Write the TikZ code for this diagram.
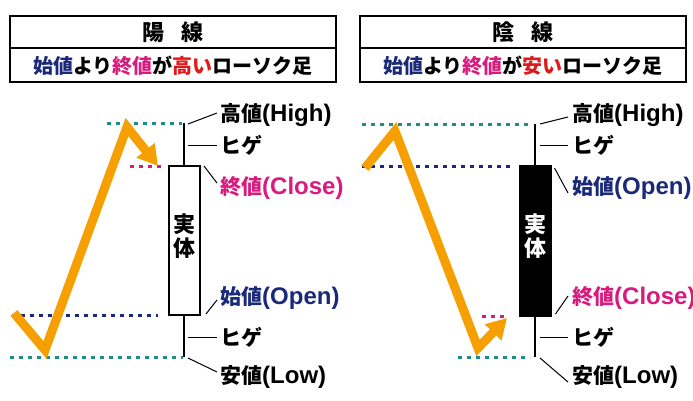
\documentclass[tikz,border=0pt]{standalone}
\usepackage{fontspec}
\setmainfont{Noto Sans CJK JP}
\newfontfamily\mylatf{Liberation Sans}
\newcommand\mylat[1]{{\mylatf\bfseries\fontsize{24}{24}\selectfont #1}}
\usetikzlibrary{arrows.meta}
\definecolor{navyc}{HTML}{1B2A78}
\definecolor{magc}{HTML}{D81B7E}
\definecolor{redc}{HTML}{E01A1A}
\definecolor{tealc}{HTML}{1E8C88}
\definecolor{orangec}{HTML}{F5A000}
\tikzset{
  hdrbox/.style={draw=black, line width=1.5pt},
  hdrtitle/.style={font=\fontsize{22}{22}\selectfont\bfseries, inner sep=0pt},
  hdrsub/.style={font=\fontsize{20}{20}\selectfont\bfseries, inner sep=0pt},
  lbl/.style={font=\fontsize{21}{21}\selectfont\bfseries, anchor=west, inner sep=0pt},
  conn/.style={draw=black, line width=1pt},
  wick/.style={draw=black, line width=2pt},
  dotl/.style={line width=3pt, dash pattern=on 4pt off 5pt},
  trend/.style={draw=orangec, line width=9pt, line join=miter, -{Triangle[length=20pt,width=22pt]}},
  bodytxt/.style={font=\fontsize{22}{24}\selectfont\bfseries, align=center, inner sep=0pt},
}
\begin{document}
\begin{tikzpicture}[x=1pt,y=-1pt]
\useasboundingbox[fill=white] (0,0) rectangle (693,400);

% ===== Left header =====
\draw[hdrbox] (10,16) rectangle (336,82);
\draw[hdrbox] (10,48) -- (336,48);
\node[hdrtitle] (tL) at (173,32) {陽\hspace{17pt}線};
\node[hdrsub] (sL) at (173,66) {\textcolor{navyc}{始値}より\textcolor{magc}{終値}が\textcolor{redc}{高い}ローソク足};

% ===== Right header =====
\draw[hdrbox] (360,16) rectangle (686,82);
\draw[hdrbox] (360,48) -- (686,48);
\node[hdrtitle] (tR) at (523,32) {陰\hspace{17pt}線};
\node[hdrsub] (sR) at (523,66) {\textcolor{navyc}{始値}より\textcolor{magc}{終値}が\textcolor{redc}{安い}ローソク足};

% ===== Left candle (bullish) =====
\coordinate (Lhi) at (184,123);
\coordinate (Llo) at (184,357);
\draw[wick] (Lhi) -- (Llo);
\node[draw=black, line width=2pt, fill=white, minimum width=31pt, minimum height=149pt, inner sep=0pt] (Lbody) at (184.5,240.5) {};
\node[bodytxt] (Lbt) at (184.5,236) {実\\体};

\draw[dotl, tealc] (107,123) -- (182,123);
\draw[dotl, magc] (130,166) -- (163,166);
\draw[dotl, navyc] (12,315) -- (158,315);
\draw[dotl, tealc] (10,357) -- (183,357);

\coordinate (La) at (14,313);
\coordinate (Lb) at (45,350);
\coordinate (Lc) at (127,127);
\coordinate (Ld) at (158,166);
\draw[trend] (La) -- (Lb) -- (Lc) -- (Ld);

\node[lbl] (Lh) at (220,115) {高値\mylat{(High)}};
\node[lbl] (Lg1) at (220,145) {ヒゲ};
\node[lbl, text=magc] (Lcl) at (220,188) {終値\mylat{(Close)}};
\node[lbl, text=navyc] (Lop) at (220,298) {始値\mylat{(Open)}};
\node[lbl] (Lg2) at (220,337) {ヒゲ};
\node[lbl] (Llw) at (220,377) {安値\mylat{(Low)}};

\draw[conn] (188,124) -- ([xshift=-3pt,yshift=2pt]Lh.west);
\draw[conn] (188,145) -- ([xshift=-3pt]Lg1.west);
\draw[conn] (Lbody.north east) ++(3,1) -- ([xshift=-3pt,yshift=5pt]Lcl.west);
\draw[conn] (Lbody.south east) ++(5,-2) -- ([xshift=-3pt,yshift=-2pt]Lop.west);
\draw[conn] (188,337) -- ([xshift=-3pt]Lg2.west);
\draw[conn] (188,358) -- ([xshift=-3pt,yshift=5pt]Llw.west);

% ===== Right candle (bearish) =====
\coordinate (Rhi) at (535,124);
\coordinate (Rlo) at (535,357);
\draw[wick] (Rhi) -- (Rlo);
\node[draw=black, line width=2pt, fill=black, minimum width=31pt, minimum height=150pt, inner sep=0pt] (Rbody) at (535,241) {};
\node[bodytxt, text=white] (Rbt) at (535,236) {実\\体};

\draw[dotl, tealc] (362,124) -- (530,124);
\draw[dotl, navyc] (362,166) -- (510,166);
\draw[dotl, magc] (482,316) -- (505,316);
\draw[dotl, tealc] (458,357) -- (530,357);

\coordinate (Ra) at (365,168);
\coordinate (Rb) at (395,131);
\coordinate (Rc) at (478,348);
\coordinate (Rd) at (507,318);
\draw[trend] (Ra) -- (Rb) -- (Rc) -- (Rd);

\node[lbl] (Rh) at (572,115) {高値\mylat{(High)}};
\node[lbl] (Rg1) at (572,145) {ヒゲ};
\node[lbl, text=navyc] (Rop) at (572,188) {始値\mylat{(Open)}};
\node[lbl, text=magc] (Rcl) at (572,298) {終値\mylat{(Close)}};
\node[lbl] (Rg2) at (572,337) {ヒゲ};
\node[lbl] (Rlw) at (572,377) {安値\mylat{(Low)}};

\draw[conn] (540,124) -- ([xshift=-4pt,yshift=-2pt]Rh.west);
\draw[conn] (540,145) -- ([xshift=-4pt]Rg1.west);
\draw[conn] (Rbody.north east) ++(3,3) -- ([xshift=-4pt,yshift=-5pt]Rop.west);
\draw[conn] (Rbody.south east) ++(4,-3) -- ([xshift=-4pt,yshift=2pt]Rcl.west);
\draw[conn] (540,337) -- ([xshift=-4pt]Rg2.west);
\draw[conn] (540,358) -- ([xshift=-4pt,yshift=-5pt]Rlw.west);
\end{tikzpicture}
\end{document}
